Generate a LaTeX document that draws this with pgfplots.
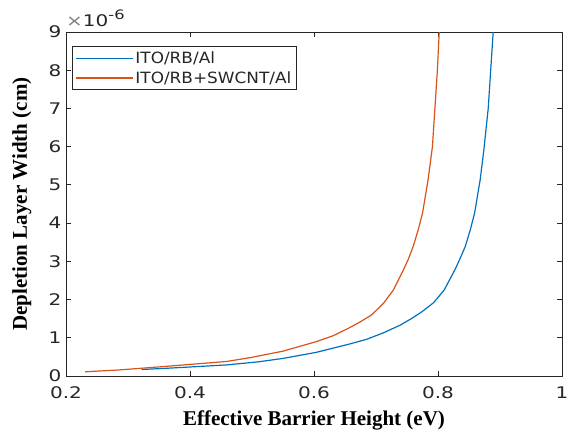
\documentclass[border=0pt]{standalone}
\usepackage{fontspec}
\usepackage{pgfplots}
\pgfplotsset{compat=1.18}
\setmainfont{DejaVu Sans}
\newfontfamily\tickfont[FakeStretch=1.25]{DejaVu Sans}
\newfontfamily\legfont[FakeStretch=1.09]{DejaVu Sans}
\newfontfamily\labfont{Liberation Serif}
\definecolor{mblue}{rgb}{0,0.447,0.741}
\definecolor{morange}{rgb}{0.85,0.325,0.098}
\definecolor{axgray}{HTML}{262626}
\begin{document}
\begin{tikzpicture}
\begin{axis}[
  name=ax,
  scale only axis,
  width=496pt, height=344pt,
  xmin=0.2, xmax=1, ymin=0, ymax=9,
  xtick={0.2,0.4,0.6,0.8,1},
  ytick={0,1,2,3,4,5,6,7,8,9},
  /pgf/number format/assume math mode=true,
  tick align=inside,
  major tick length=5pt,
  axis line style={axgray, line width=0.9pt},
  tick style={axgray, line width=0.8pt},
  ticklabel style={font=\tickfont\fontsize{16}{19}\selectfont, text=axgray},
  xticklabel style={yshift=-7pt},
  yticklabel style={xshift=-1pt},
  xlabel={\textbf{Effective Barrier Height (eV)}},
  ylabel={\textbf{Depletion Layer Width (cm)}},
  label style={font=\labfont\fontsize{21}{24}\selectfont},
  xlabel style={at={(axis description cs:0.5,-0.13)}, anchor=center},
  ylabel style={at={(axis description cs:-0.089,0.5)}, anchor=center, rotate=0},
  legend style={at={(axis description cs:0.012,0.958)}, anchor=north west,
    draw=axgray, font=\legfont\fontsize{15.5}{17}\selectfont, text=axgray,
    row sep=2.5pt, inner xsep=3pt, inner ysep=3pt},
  legend cell align=left,
  legend image code/.code={\draw[#1, line width=1.3pt] (0pt,0pt) -- (57pt,0pt);},
]
\addplot[mblue, line width=1.2pt] coordinates {
(0.322,0.17) (0.36,0.20) (0.405,0.24) (0.459,0.29) (0.51,0.37) (0.55,0.46)
(0.604,0.62) (0.658,0.84) (0.685,0.96) (0.712,1.13) (0.739,1.33) (0.757,1.50)
(0.774,1.68) (0.793,1.92) (0.810,2.25) (0.827,2.77) (0.835,3.05) (0.844,3.39)
(0.852,3.82) (0.859,4.26) (0.868,5.13) (0.874,5.92) (0.881,7.00) (0.885,8.00)
(0.889,9.00)
};
\addlegendentry{ITO/RB/Al}
\addplot[morange, line width=1.2pt] coordinates {
(0.231,0.11) (0.287,0.16) (0.352,0.24) (0.405,0.31) (0.459,0.38) (0.497,0.48)
(0.550,0.65) (0.604,0.90) (0.632,1.06) (0.658,1.27) (0.675,1.42) (0.693,1.60)
(0.712,1.90) (0.728,2.25) (0.744,2.77) (0.752,3.05) (0.760,3.39) (0.768,3.82)
(0.775,4.26) (0.784,5.13) (0.791,6.00) (0.795,7.00) (0.799,8.00) (0.802,9.00)
};
\addlegendentry{ITO/RB+SWCNT/Al}
\end{axis}
\node[anchor=south west, text=axgray, font=\tickfont\fontsize{16}{19}\selectfont, inner sep=0pt]
  at ([yshift=5pt]ax.north west) {\textcolor{gray}{×}10\raisebox{0.45em}{\fontsize{13}{14}\selectfont -6}};
\pgfresetboundingbox
\path[use as bounding box] ([xshift=-66pt,yshift=-56pt]ax.south west) rectangle ([xshift=8pt,yshift=32pt]ax.north east);
\end{tikzpicture}
\end{document}
